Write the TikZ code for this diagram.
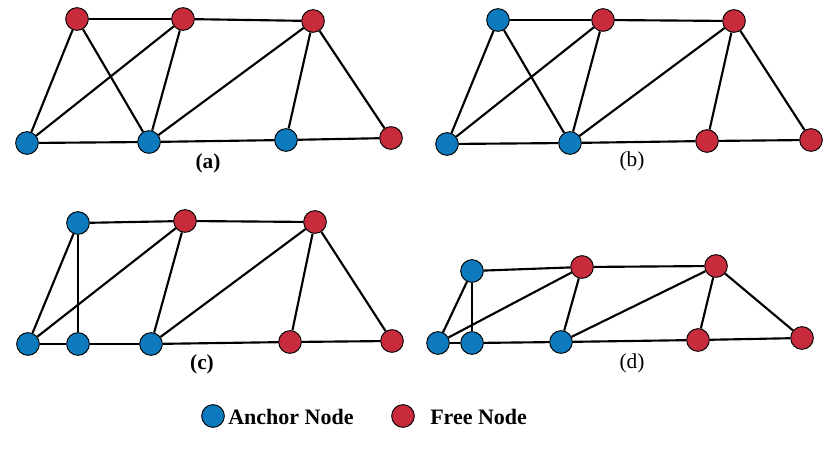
\documentclass[tikz,border=0pt]{standalone}
\usepackage{fontspec}
\setmainfont{Liberation Serif}
\usepackage{tikz}
\definecolor{anchorblue}{RGB}{14,122,190}
\definecolor{freered}{RGB}{200,44,60}

\begin{document}
\begin{tikzpicture}[x=0.75pt,y=-0.75pt,
    anchornode/.style={circle, draw=black, fill=anchorblue, line width=0.7pt, minimum size=17pt, inner sep=0pt},
    freenode/.style={circle, draw=black, fill=freered, line width=0.7pt, minimum size=17pt, inner sep=0pt},
    link/.style={line width=1.6pt, black},
    caption/.style={font=\fontsize{16pt}{18pt}\selectfont},
    boldcaption/.style={font=\bfseries\fontsize{16pt}{18pt}\selectfont},
    keytext/.style={anchor=west, inner sep=0pt, font=\bfseries\fontsize{16.5pt}{18pt}\selectfont}]
        \useasboundingbox (0,0) rectangle (830,452);
        % graph (a)
        \node[freenode] (a-t1) at (77,19) {};
        \node[freenode] (a-t2) at (183,19) {};
        \node[freenode] (a-t3) at (313,21) {};
        \node[anchornode] (a-b1) at (27,143) {};
        \node[anchornode] (a-b2) at (149,142) {};
        \node[anchornode] (a-b3) at (286,140) {};
        \node[freenode] (a-b4) at (391,138) {};
        \foreach \u/\v in {t1/t2, t2/t3, t1/b1, t1/b2, t2/b1, t2/b2, t3/b2, t3/b3, t3/b4, b1/b2, b2/b3, b3/b4}
        {
            \draw[link] (a-\u) -- (a-\v);
        }
        \node[boldcaption] (a-label) at (208,163) {(a)};
        % graph (b)
        \node[anchornode] (b-t1) at (498,20) {};
        \node[freenode] (b-t2) at (603,20) {};
        \node[freenode] (b-t3) at (734,21) {};
        \node[anchornode] (b-b1) at (447,144) {};
        \node[anchornode] (b-b2) at (570,143) {};
        \node[freenode] (b-b3) at (707,141) {};
        \node[freenode] (b-b4) at (811,140) {};
        \foreach \u/\v in {t1/t2, t2/t3, t1/b1, t1/b2, t2/b1, t2/b2, t3/b2, t3/b3, t3/b4, b1/b2, b2/b3, b3/b4}
        {
            \draw[link] (b-\u) -- (b-\v);
        }
        \node[caption] (b-label) at (632,161) {(b)};
        % graph (c)
        \node[anchornode] (c-t1) at (78,223) {};
        \node[freenode] (c-t2) at (185,221) {};
        \node[freenode] (c-t3) at (315,222) {};
        \node[anchornode] (c-b1) at (28,344) {};
        \node[anchornode] (c-b2) at (78,344) {};
        \node[anchornode] (c-b3) at (151,344) {};
        \node[freenode] (c-b4) at (290,342) {};
        \node[freenode] (c-b5) at (392,341) {};
        \foreach \u/\v in {t1/t2, t2/t3, t1/b1, t1/b2, t2/b1, t2/b3, t3/b3, t3/b4, t3/b5, b1/b2, b2/b3, b3/b4, b4/b5}
        {
            \draw[link] (c-\u) -- (c-\v);
        }
        \node[boldcaption] (c-label) at (202,364) {(c)};
        % graph (d)
        \node[anchornode] (d-t1) at (472,271) {};
        \node[freenode] (d-t2) at (582,267) {};
        \node[freenode] (d-t3) at (716,266) {};
        \node[anchornode] (d-b1) at (438,343) {};
        \node[anchornode] (d-b2) at (472,343) {};
        \node[anchornode] (d-b3) at (561,342) {};
        \node[freenode] (d-b4) at (698,340) {};
        \node[freenode] (d-b5) at (802,338) {};
        \foreach \u/\v in {t1/t2, t2/t3, t1/b1, t1/b2, t2/b1, t2/b3, t3/b3, t3/b4, t3/b5, b1/b2, b2/b3, b3/b4, b4/b5}
        {
            \draw[link] (d-\u) -- (d-\v);
        }
        \node[caption] (d-label) at (632,363) {(d)};
        % legend
        \node[anchornode, minimum size=17pt] (key-anchor) at (213,416) {};
        \node[keytext] (key-anchor-text) at (228,417) {Anchor Node};
        \node[freenode, minimum size=17pt] (key-free) at (403,416) {};
        \node[keytext] (key-free-text) at (430,417) {Free Node};
\end{tikzpicture}
\end{document}
